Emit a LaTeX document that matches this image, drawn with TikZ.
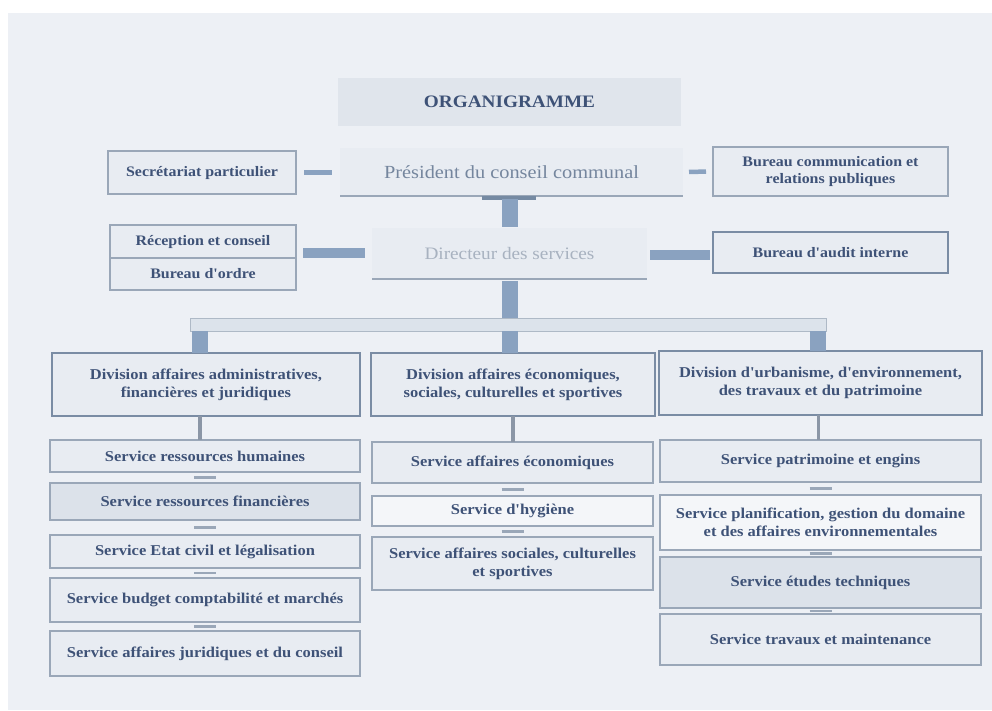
\documentclass[tikz,border=0pt]{standalone}
\usepackage{fontspec}
\setmainfont{Liberation Serif}
\newfontfamily\widefont[FakeStretch=1.1]{Liberation Serif}
\usetikzlibrary{calc}
\definecolor{bgc}{HTML}{EDF0F5}
\definecolor{txt}{HTML}{3E5277}
\definecolor{barc}{HTML}{8AA2C0}
\definecolor{linec}{HTML}{9AA7B8}
\definecolor{divb}{HTML}{7A8CA4}
\definecolor{filln}{HTML}{E8ECF2}
\definecolor{filld}{HTML}{DCE2EA}
\definecolor{filll}{HTML}{F4F6F9}
\definecolor{hbarc}{HTML}{DCE3EB}
\definecolor{prestxt}{HTML}{75869E}
\definecolor{dirtxt}{HTML}{A8B2C0}
\newcommand\bx[7]{\node[#6, minimum width={(#4-#2)*1pt}, minimum height={(#5-#3)*1pt}] (#1) at ({(#2+#4)/2},{(#3+#5)/2}) {#7};}
\tikzset{
  base/.style={inner sep=0pt, outer sep=0pt, align=center, text=txt},
  svc/.style={base, draw=linec, line width=1.3pt, fill=filln, font=\widefont\bfseries\fontsize{15}{18}\selectfont},
  side/.style={svc, font=\widefont\bfseries\fontsize{14.5}{17}\selectfont},
  divbox/.style={svc, draw=divb, line width=2.2pt},
  topbox/.style={base, fill=filln},
  bar/.style={draw=barc, line width=16pt},
  hbar/.style={base, draw=linec!80, line width=1pt, fill=hbarc},
  sidebar/.style={draw=barc, line width=10pt},
  thinbar/.style={draw=barc, line width=4.5pt},
  vlink/.style={draw=linec!90!black, line width=3.5pt},
  dashlink/.style={draw=linec, line width=2.2pt},
}
\begin{document}
\begin{tikzpicture}[x=1pt,y=-1pt]
\useasboundingbox (0,0) rectangle (992,710);
\fill[white] (0,0) rectangle (992,710);
\fill[bgc] (8,13) rectangle (992,710);
% top
\bx{org}{338}{78}{681}{126}{topbox, fill=filld!70!filln, font=\widefont\bfseries\fontsize{17.5}{20}\selectfont}{ORGANIGRAMME}
\bx{pres}{340}{148}{683}{196}{topbox, text=prestxt, font=\widefont\fontsize{18.5}{20}\selectfont}{Président du conseil communal}
\draw[linec, line width=2pt] (pres.south west) -- (pres.south east);
\bx{sec}{108}{151}{296}{194}{side}{Secrétariat particulier}
\bx{com}{713}{147}{948}{196}{side}{Bureau communication et\\relations publiques}
\bx{dir}{372}{228}{647}{279}{topbox, text=dirtxt, font=\widefont\fontsize{17.5}{20}\selectfont}{Directeur des services}
\draw[linec, line width=2pt] (dir.south west) -- (dir.south east);
\bx{rec}{110}{225}{296}{258}{side}{Réception et conseil}
\bx{ord}{110}{258}{296}{290}{side}{Bureau d'ordre}
\bx{aud}{713}{232}{948}{273}{side, draw=divb, line width=1.8pt}{Bureau d'audit interne}
% connectors top
\draw[thinbar, shorten <=8pt, shorten >=8pt] (sec) -- (sec -| pres.west);
\draw[thinbar, shorten <=6pt, shorten >=7pt] (pres.east) -- (com.west);
\draw[sidebar, shorten <=7pt, shorten >=7pt] ([yshift=5pt]rec.south east) -- ([yshift=5pt]rec.south east -| dir.west);
\draw[sidebar, shorten <=3pt, shorten >=3pt] ([yshift=-1pt]dir.east) -- ([yshift=-1pt]dir.east -| aud.west);
\draw[draw=barc!85!black, line width=4pt] ([xshift=-28pt,yshift=-2pt]dir.north |- pres.south) -- ([xshift=26pt,yshift=-2pt]dir.north |- pres.south);
\draw[bar, shorten <=3pt, shorten >=1pt] (dir.north |- pres.south) -- (dir.north);
\bx{hb}{190}{318}{826}{331}{hbar}{}
\draw[bar, shorten <=2pt] (dir.south) -- (dir.south |- hb.north);
% divisions
\bx{dL}{52}{353}{360}{416}{divbox}{Division affaires administratives,\\financières et juridiques}
\bx{dM}{371}{353}{655}{416}{divbox}{Division affaires économiques,\\sociales, culturelles et sportives}
\bx{dR}{659}{351}{982}{415}{divbox}{Division d'urbanisme, d'environnement,\\des travaux et du patrimoine}
\draw[bar] ([xshift=10pt]hb.south west) -- ([xshift=10pt]hb.south west |- dL.north);
\draw[bar] (dir.south |- hb.south) -- (dir.south |- dM.north);
\draw[bar] ([xshift=-8pt]hb.south east) -- ([xshift=-8pt]hb.south east |- dR.north);
% left column
\bx{l1}{50}{440}{360}{472}{svc}{Service ressources humaines}
\bx{l2}{50}{483}{360}{520}{svc, fill=filld}{Service ressources financières}
\bx{l3}{50}{535}{360}{568}{svc}{Service Etat civil et légalisation}
\bx{l4}{50}{578}{360}{622}{svc}{Service budget comptabilité et marchés}
\bx{l5}{50}{631}{360}{676}{svc}{Service affaires juridiques et du conseil}
% middle column
\bx{m1}{372}{442}{653}{483}{svc}{Service affaires économiques}
\bx{m2}{372}{496}{653}{526}{svc, fill=filll}{Service d'hygiène}
\bx{m3}{372}{537}{653}{590}{svc}{Service affaires sociales, culturelles\\et sportives}
% right column
\bx{r1}{660}{440}{981}{482}{svc}{Service patrimoine et engins}
\bx{r2}{660}{495}{981}{550}{svc, fill=filll}{Service planification, gestion du domaine\\et des affaires environnementales}
\bx{r3}{660}{557}{981}{608}{svc, fill=filld}{Service études techniques}
\bx{r4}{660}{614}{981}{665}{svc}{Service travaux et maintenance}
% division to first service
\draw[vlink] ([xshift=-6pt]dL.south) -- ([xshift=-6pt]dL.south |- l1.north);
\draw[vlink] (dM.south) -- (dM.south |- m1.north);
\draw[vlink] ([xshift=-2pt]dR.south) -- ([xshift=-2pt]dR.south |- r1.north);
% dashes between services
\foreach \a/\b in {l1/l2,l2/l3,l3/l4,l4/l5,m1/m2,m2/m3,r1/r2,r2/r3,r3/r4}{
  \path (\a.south) -- (\b.north) coordinate[midway] (mid);
  \draw[dashlink] ([xshift=-11pt]mid) -- ([xshift=11pt]mid);
}
\end{tikzpicture}
\end{document}
